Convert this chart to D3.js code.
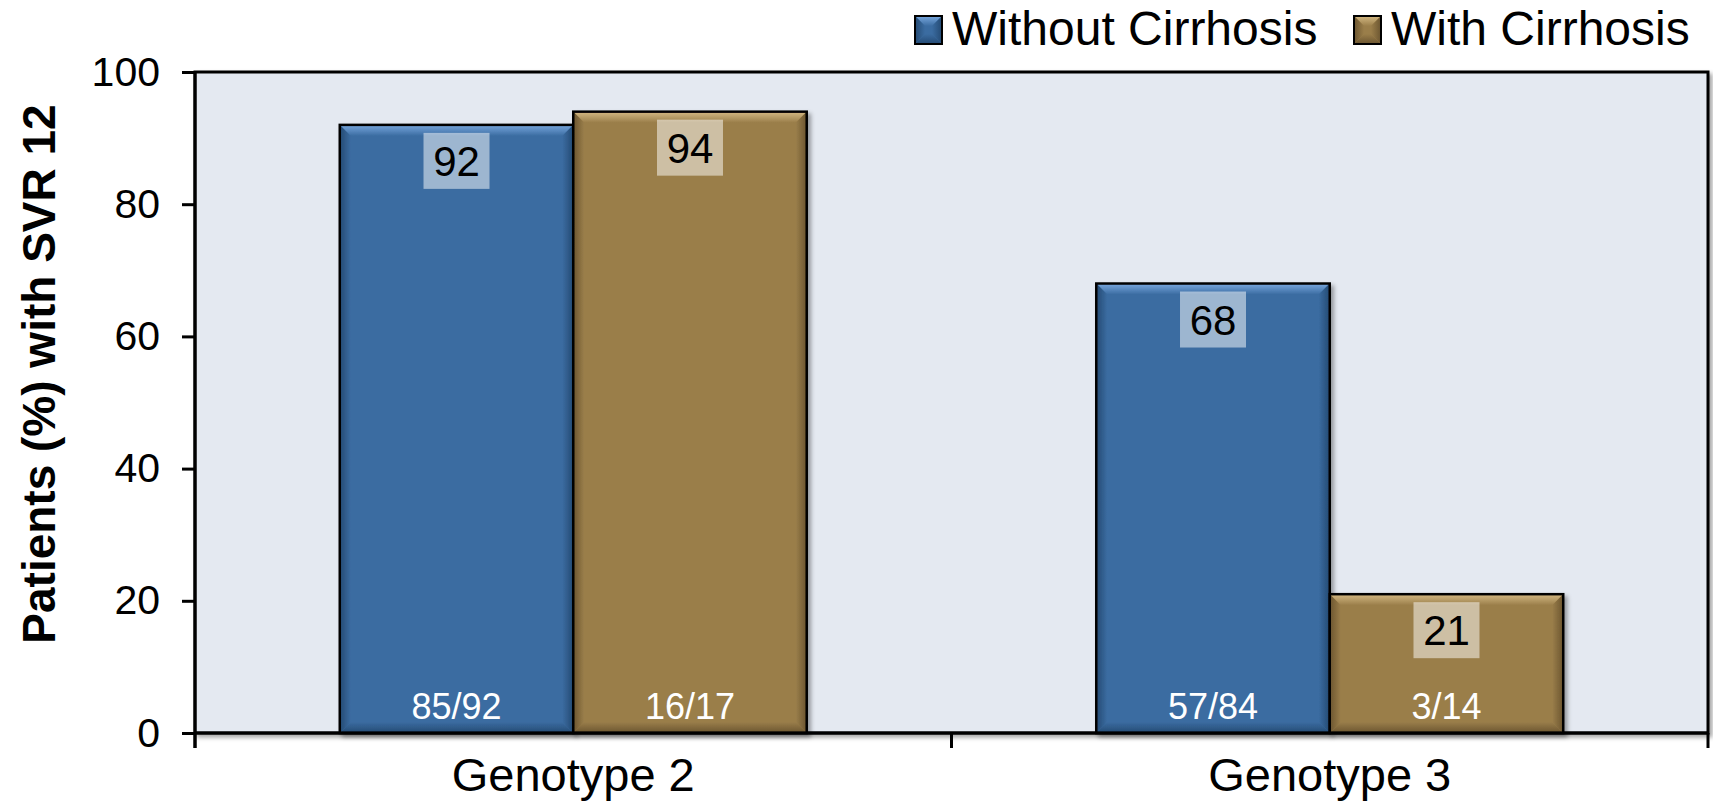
<!DOCTYPE html>
<html>
<head>
<meta charset="utf-8">
<script src="https://cdn.jsdelivr.net/npm/d3@7"></script>
<style>
  html, body { margin: 0; padding: 0; background: #ffffff; }
  svg { display: block; font-family: "Liberation Sans", Arial, sans-serif; }
</style>
</head>
<body>
<svg id="chart" width="1713" height="803"></svg>
<script>
// SVR12 rates by genotype and cirrhosis status
const categories = ["Genotype 2", "Genotype 3"];
const seriesNames = ["Without Cirrhosis", "With Cirrhosis"];
const withoutCirrhosis = [92, 68];
const withCirrhosis = [94, 21];
const withoutCounts = ["85/92", "57/84"];
const withCounts = ["16/17", "3/14"];
const yTicks = [0, 20, 40, 60, 80, 100];

const seriesValues = [withoutCirrhosis, withCirrhosis];
const seriesCounts = [withoutCounts, withCounts];
const palette = {
  "Without Cirrhosis": { base: "#3b6ca1", light: "#79a8de", dark: "#244a73" },
  "With Cirrhosis":    { base: "#9a7e4a", light: "#d4b983", dark: "#6b5530" }
};

const plot = { left: 195, right: 1708, top: 72, bottom: 733 };

const svg = d3.select("#chart");
const defs = svg.append("defs");

const shadow = defs.append("filter").attr("id", "shadow")
  .attr("x", "-10%").attr("y", "-10%").attr("width", "130%").attr("height", "130%");
shadow.append("feDropShadow").attr("dx", 3).attr("dy", 3)
  .attr("stdDeviation", 2).attr("flood-color", "#000").attr("flood-opacity", 0.35);

// Gradients for the bevelled edges
function grad(id, x1, y1, x2, y2, c1, c2) {
  const g = defs.append("linearGradient").attr("id", id)
    .attr("x1", x1).attr("y1", y1).attr("x2", x2).attr("y2", y2);
  g.append("stop").attr("offset", "0%").attr("stop-color", c1);
  g.append("stop").attr("offset", "100%").attr("stop-color", c2);
}
seriesNames.forEach((s, i) => {
  const p = palette[s];
  grad(`top${i}`, "0", "0", "0", "1", p.light, p.base);
  grad(`bot${i}`, "0", "0", "0", "1", p.base, p.dark);
  grad(`lft${i}`, "0", "0", "1", "0", p.dark, p.base);
  grad(`rgt${i}`, "0", "0", "1", "0", p.base, p.dark);
});

const x0 = d3.scaleBand().domain(categories).range([plot.left, plot.right]).padding(0);
const x1 = d3.scaleBand().domain(seriesNames).range([0, x0.bandwidth()])
  .paddingInner(0).paddingOuter(0.62);
const y = d3.scaleLinear().domain([0, 100]).range([plot.bottom, plot.top]);

// Plot background and frame
svg.append("rect")
  .attr("x", plot.left).attr("y", plot.top)
  .attr("width", plot.right - plot.left).attr("height", plot.bottom - plot.top)
  .attr("fill", "#e4e9f1").attr("stroke", "#000").attr("stroke-width", 3)
  .attr("filter", "url(#shadow)");

// Draw a bevelled box
function bevelBox(g, x, yTop, w, h, b, idx, stroke) {
  const base = palette[seriesNames[idx]].base;
  g.append("rect").attr("x", x).attr("y", yTop).attr("width", w).attr("height", h)
    .attr("fill", base);
  const poly = (pts, fill) => g.append("polygon")
    .attr("points", pts.map(p => p.join(",")).join(" ")).attr("fill", fill);
  poly([[x, yTop], [x + w, yTop], [x + w - b, yTop + b], [x + b, yTop + b]], `url(#top${idx})`);
  poly([[x, yTop + h], [x + b, yTop + h - b], [x + w - b, yTop + h - b], [x + w, yTop + h]], `url(#bot${idx})`);
  poly([[x, yTop], [x + b, yTop + b], [x + b, yTop + h - b], [x, yTop + h]], `url(#lft${idx})`);
  poly([[x + w, yTop], [x + w - b, yTop + b], [x + w - b, yTop + h - b], [x + w, yTop + h]], `url(#rgt${idx})`);
  g.append("rect").attr("x", x).attr("y", yTop).attr("width", w).attr("height", h)
    .attr("fill", "none").attr("stroke", "#000").attr("stroke-width", stroke);
}

// Bars
const barLayer = svg.append("g");
categories.forEach((cat, ci) => {
  seriesNames.forEach((s, si) => {
    const v = seriesValues[si][ci];
    const bx = x0(cat) + x1(s);
    const bw = x1.bandwidth();
    const by = y(v);
    const bh = y(0) - y(v);
    const g = barLayer.append("g").attr("filter", "url(#shadow)");
    bevelBox(g, bx, by, bw, bh, 11, si, 2.5);
  });
});

// Value labels and patient counts
const labelLayer = svg.append("g");
categories.forEach((cat, ci) => {
  seriesNames.forEach((s, si) => {
    const v = seriesValues[si][ci];
    const cx = x0(cat) + x1(s) + x1.bandwidth() / 2;
    const boxW = 66, boxH = 56;
    labelLayer.append("rect")
      .attr("x", cx - boxW / 2).attr("y", y(v) + 8)
      .attr("width", boxW).attr("height", boxH)
      .attr("fill", "#ffffff").attr("fill-opacity", 0.5);
    labelLayer.append("text")
      .attr("x", cx).attr("y", y(v) + 8 + boxH / 2 + 15)
      .attr("text-anchor", "middle").attr("font-size", 42).attr("fill", "#000")
      .text(v);
    labelLayer.append("text")
      .attr("x", cx).attr("y", y(0) - 14)
      .attr("text-anchor", "middle").attr("font-size", 36).attr("fill", "#ffffff")
      .text(seriesCounts[si][ci]);
  });
});

// Y axis
const yAxis = d3.axisLeft(y).tickValues(yTicks).tickSize(13).tickPadding(22)
  .tickFormat(d3.format("d"));
const yg = svg.append("g").attr("transform", `translate(${plot.left},0)`).call(yAxis);
yg.select(".domain").remove();
yg.selectAll(".tick line").attr("stroke", "#000").attr("stroke-width", 3);
yg.selectAll(".tick text").attr("font-size", 41).attr("fill", "#000")
  .attr("font-family", "Liberation Sans, Arial, sans-serif");
svg.append("line").attr("x1", plot.left).attr("x2", plot.left)
  .attr("y1", plot.top).attr("y2", plot.bottom + 15)
  .attr("stroke", "#000").attr("stroke-width", 3);

// X axis line and category boundary ticks
svg.append("line").attr("x1", plot.left).attr("x2", plot.right)
  .attr("y1", plot.bottom).attr("y2", plot.bottom)
  .attr("stroke", "#000").attr("stroke-width", 3);
const boundaries = categories.map(c => x0(c)).concat([x0.range()[1]]);
svg.append("g").selectAll("line").data(boundaries).join("line")
  .attr("x1", d => d).attr("x2", d => d)
  .attr("y1", plot.bottom).attr("y2", plot.bottom + 15)
  .attr("stroke", "#000").attr("stroke-width", 3);
svg.append("g").selectAll("text").data(categories).join("text")
  .attr("x", d => x0(d) + x0.bandwidth() / 2).attr("y", 791)
  .attr("text-anchor", "middle").attr("font-size", 47).attr("fill", "#000")
  .text(d => d);

// Y axis title
svg.append("text")
  .attr("transform", "translate(39,374) rotate(-90)")
  .attr("text-anchor", "middle").attr("dominant-baseline", "central")
  .attr("font-size", 46).attr("font-weight", "bold").attr("fill", "#000")
  .text("Patients (%) with SVR 12");

// Legend
const legendX = [915, 1354];
seriesNames.forEach((s, si) => {
  const g = svg.append("g");
  bevelBox(g, legendX[si], 16, 27, 28, 10, si, 2);
  g.append("text").attr("x", legendX[si] + 37).attr("y", 45)
    .attr("font-size", 48).attr("fill", "#000").text(s);
});
</script>
</body>
</html>
